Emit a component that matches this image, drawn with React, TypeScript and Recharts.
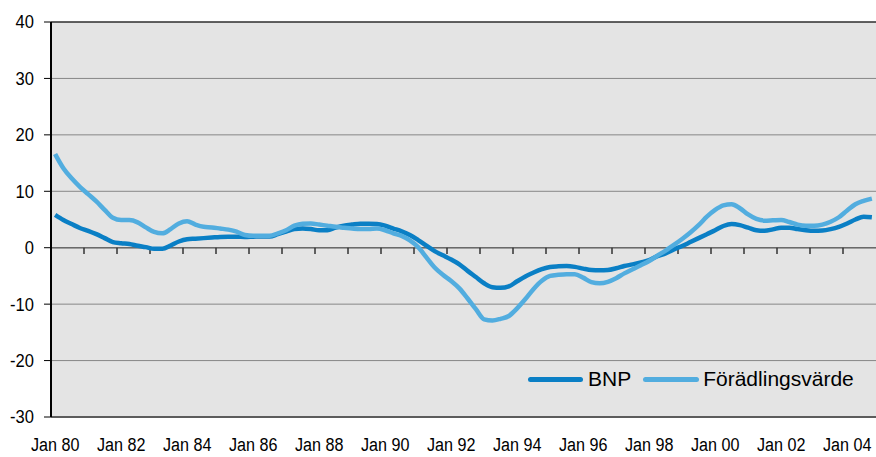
import React from 'react';
import { LineChart, Line, XAxis, YAxis, CartesianGrid, ReferenceLine, Legend } from 'recharts';

// quarterly series, 1980 Q1 - 2004 Q4
const years = Array.from({ length: 25 }, (_, k) => 1980 + k);
const quarters = years.flatMap((y) => [1, 2, 3, 4].map((q) => `${y}K${q}`));

const bnp = [
  5.8, 4.9, 4.2, 3.5, 3.0, 2.4, 1.7, 1.0, 0.8, 0.65,
  0.35, 0.1, -0.2, -0.2, 0.4, 1.1, 1.5, 1.6, 1.7, 1.8,
  1.9, 1.95, 1.95, 1.9, 1.95, 2.0, 2.0, 2.4, 2.85, 3.3,
  3.4, 3.3, 3.1, 3.1, 3.55, 3.9, 4.1, 4.25, 4.25, 4.2,
  3.9, 3.4, 2.9, 2.25, 1.35, 0.35, -0.6, -1.35, -2.1, -2.95,
  -4.1, -5.2, -6.3, -7.0, -7.1, -6.85, -5.95, -5.1, -4.4, -3.8,
  -3.4, -3.3, -3.25, -3.4, -3.7, -3.95, -4.0, -3.95, -3.65, -3.25,
  -2.95, -2.6, -2.2, -1.5, -1.0, -0.3, 0.3, 1.0, 1.7, 2.4,
  3.1, 3.85, 4.2, 4.0, 3.55, 3.1, 3.0, 3.25, 3.55, 3.55,
  3.3, 3.1, 3.0, 3.05, 3.3, 3.7, 4.3, 5.0, 5.5, 5.4,
];

const foradling = [
  16.6, 14.1, 12.3, 10.8, 9.5, 8.2, 6.7, 5.3, 4.9, 4.9,
  4.5, 3.6, 2.8, 2.55, 3.3, 4.3, 4.7, 4.1, 3.7, 3.6,
  3.4, 3.2, 2.85, 2.25, 2.1, 2.1, 2.1, 2.55, 3.1, 3.9,
  4.25, 4.3, 4.1, 3.9, 3.7, 3.55, 3.4, 3.3, 3.3, 3.4,
  3.1, 2.55, 2.1, 1.3, 0.1, -1.7, -3.5, -4.8, -5.9, -7.2,
  -9.0, -10.9, -12.7, -12.9, -12.6, -12.1, -10.75, -9.1, -7.3, -5.85,
  -5.0, -4.8, -4.7, -4.7, -5.3, -6.1, -6.3, -6.05, -5.4, -4.55,
  -3.8, -3.1, -2.35, -1.4, -0.5, 0.5, 1.55, 2.7, 4.0, 5.5,
  6.7, 7.5, 7.7, 7.0, 5.9, 5.1, 4.8, 4.85, 4.9, 4.55,
  4.1, 3.9, 3.9, 4.1, 4.6, 5.4, 6.6, 7.7, 8.3, 8.7,
];

const yTicks = [-30, -20, -10, 0, 10, 20, 30, 40];
const yearStarts = years.slice(1).map((y) => `${y}K1`);

const data = quarters.map((q, i) => ({ q, bnp: bnp[i], fv: foradling[i] }));

const FONT = '"Liberation Sans", Arial, sans-serif';
const BNP_COLOR = '#0a7fc5';
const FV_COLOR = '#52addf';

const toLabel = (q: string) => `Jan ${q.slice(2, 4)}`;

const XTick = ({ x, y, payload }: any) => (
  <text
    transform={`translate(${x} ${y + 34}) scale(0.85 1)`}
    textAnchor="middle"
    fontSize={19}
    fontFamily={FONT}
    fill="#000"
  >
    {toLabel(payload.value)}
  </text>
);

const YTick = ({ x, y, payload }: any) => (
  <text
    transform={`translate(${x} ${y}) scale(0.92 1)`}
    textAnchor="end"
    dy="0.36em"
    fontSize={18}
    fontFamily={FONT}
    fill="#000"
  >
    {payload.value}
  </text>
);

const LegendBox = () => (
  <div style={{ display: 'flex', alignItems: 'center', fontFamily: FONT, fontSize: 21, color: '#000', whiteSpace: 'nowrap' }}>
    <span style={{ width: 55, height: 5, borderRadius: 3, background: BNP_COLOR, marginRight: 5 }} />
    <span style={{ marginRight: 12 }}>BNP</span>
    <span style={{ width: 56, height: 5, borderRadius: 3, background: FV_COLOR, marginRight: 4 }} />
    <span>Förädlingsvärde</span>
  </div>
);

export default function App() {
  return (
    <div style={{ position: 'absolute', left: 0, top: 0, width: 876, height: 457, background: '#fff' }}>
      <LineChart width={876} height={457} data={data} margin={{ top: 22, right: 0, bottom: 0, left: 0 }}>
        <CartesianGrid vertical={false} stroke="#878787" fill="#e4e4e4" />
        <XAxis
          dataKey="q"
          scale="band"
          interval={7}
          height={40}
          tickLine={false}
          tickSize={0}
          tickMargin={0}
          axisLine={{ stroke: '#5c5c5c', strokeWidth: 2 }}
          tick={<XTick />}
        />
        <YAxis
          domain={[-30, 40]}
          ticks={yTicks}
          width={51}
          tickSize={7}
          tickMargin={10}
          axisLine={{ stroke: '#000', strokeWidth: 2 }}
          tickLine={{ stroke: '#000' }}
          tick={<YTick />}
        />
        <ReferenceLine y={40} stroke="#000" strokeWidth={1} />
        <ReferenceLine y={0} stroke="#6a6a6a" strokeWidth={1.5} />
        {yearStarts.map((q) => (
          <ReferenceLine
            key={q}
            position="start"
            segment={[{ x: q, y: 0 }, { x: q, y: -1.1 }]}
            stroke="#333"
            strokeWidth={1.5}
          />
        ))}
        <Line type="monotone" dataKey="bnp" name="BNP" stroke={BNP_COLOR} strokeWidth={4.5} dot={false} isAnimationActive={false} />
        <Line type="monotone" dataKey="fv" name="Förädlingsvärde" stroke={FV_COLOR} strokeWidth={4.5} dot={false} isAnimationActive={false} />
        <Legend
          layout="vertical"
          align="center"
          verticalAlign="middle"
          wrapperStyle={{ left: 528, top: 367, width: 'auto', height: 'auto' }}
          content={() => <LegendBox />}
        />
      </LineChart>
    </div>
  );
}
